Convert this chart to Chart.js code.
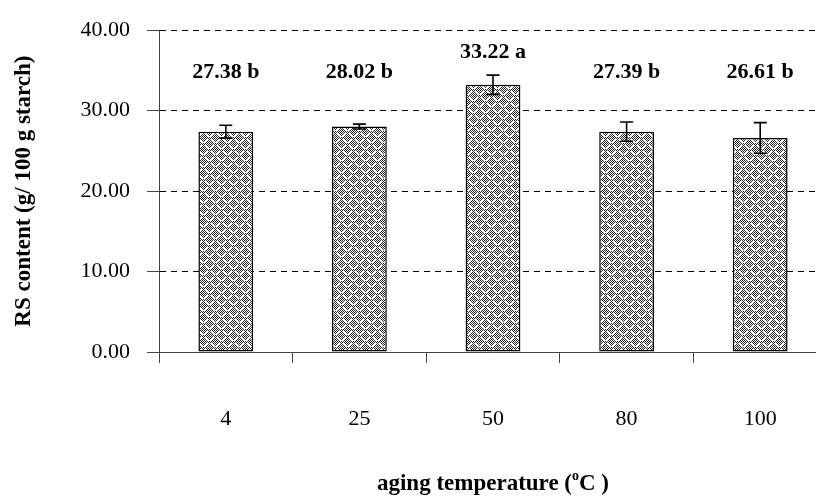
<!DOCTYPE html>
<html>
<head>
<meta charset="utf-8">
<script src="https://cdn.jsdelivr.net/npm/chart.js@4/dist/chart.umd.min.js"></script>
<style>
    html, body { margin: 0; padding: 0; background: #fff; overflow: hidden; }
    #wrap { width: 840px; height: 502px; }
</style>
</head>
<body>
<div id="wrap"><canvas id="chart" width="840" height="502"></canvas></div>
<script>
// --- Data ---
const temperatures = ['4', '25', '50', '80', '100'];
const rsContent = [27.38, 28.02, 33.22, 27.39, 26.61];
const rsError = [0.8, 0.3, 1.2, 1.2, 1.9];
const groupLetters = ['b', 'b', 'a', 'b', 'b'];
const labelLevel = [34.8, 34.8, 37.2, 34.8, 34.8]; // where the value labels sit (y units)
const yTicks = [0, 10, 20, 30, 40];

const serif = "'Liberation Serif', 'Times New Roman', serif";

// woven fill for the bars (dotted grey with broken white diagonals)
function makeWeave() {
    const size = 12;
    const c = document.createElement('canvas');
    c.width = size; c.height = size;
    const g = c.getContext('2d');
    g.fillStyle = '#fff';
    g.fillRect(0, 0, size, size);
    g.fillStyle = '#262626';
    for (let y = 0; y < size; y++) {
        for (let x = 0; x < size; x++) {
            if ((x + y) % 2 === 0) g.fillRect(x, y, 1, 1);
        }
    }
    g.fillStyle = '#fff';
    const px = (x, y) => g.fillRect(((x % size) + size) % size, ((y % size) + size) % size, 2, 1);
    for (let t = 0; t < 4; t++) {
        px(t, 1 + t);          // "\"
        px(6 + t, 4 - t);      // "/"
        px(6 + t, 7 + t);      // "\" (shifted row)
        px(t, 10 - t);         // "/" (shifted row)
    }
    return g.createPattern(c, 'repeat');
}

const errorBars = {
    id: 'errorBars',
    afterDatasetsDraw(chart) {
        const ctx = chart.ctx;
        const y = chart.scales.y;
        const meta = chart.getDatasetMeta(0);
        ctx.save();
        ctx.strokeStyle = '#000';
        ctx.lineWidth = 1.6;
        meta.data.forEach((bar, i) => {
            const top = y.getPixelForValue(rsContent[i] + rsError[i]);
            const bot = y.getPixelForValue(rsContent[i] - rsError[i]);
            ctx.beginPath();
            ctx.moveTo(bar.x, top); ctx.lineTo(bar.x, bot);
            ctx.moveTo(bar.x - 6.5, top); ctx.lineTo(bar.x + 6.5, top);
            ctx.moveTo(bar.x - 6.5, bot); ctx.lineTo(bar.x + 6.5, bot);
            ctx.stroke();
        });
        ctx.restore();
    }
};

const valueLabels = {
    id: 'valueLabels',
    afterDatasetsDraw(chart) {
        const ctx = chart.ctx;
        const y = chart.scales.y;
        const meta = chart.getDatasetMeta(0);
        ctx.save();
        ctx.fillStyle = '#000';
        ctx.font = `bold 22px ${serif}`;
        ctx.textAlign = 'center';
        ctx.textBaseline = 'middle';
        meta.data.forEach((bar, i) => {
            ctx.fillText(`${rsContent[i].toFixed(2)} ${groupLetters[i]}`, bar.x, y.getPixelForValue(labelLevel[i]));
        });
        ctx.restore();
    }
};

// x title with a raised "o" for degrees
const xTitle = {
    id: 'xTitle',
    afterDraw(chart) {
        const ctx = chart.ctx;
        const area = chart.chartArea;
        const main = 'aging temperature (';
        const tail = 'C )';
        ctx.save();
        ctx.fillStyle = '#000';
        ctx.textBaseline = 'alphabetic';
        ctx.font = `bold 23px ${serif}`;
        const w1 = ctx.measureText(main).width;
        const w3 = ctx.measureText(tail).width;
        ctx.font = `bold 14px ${serif}`;
        const w2 = ctx.measureText('o').width;
        let x = (area.left + area.right) / 2 - (w1 + w2 + w3) / 2;
        const base = 490;
        ctx.font = `bold 23px ${serif}`;
        ctx.fillText(main, x, base);
        x += w1;
        ctx.font = `bold 14px ${serif}`;
        ctx.fillText('o', x, base - 10);
        x += w2;
        ctx.font = `bold 23px ${serif}`;
        ctx.fillText(tail, x, base);
        ctx.restore();
    }
};

new Chart(document.getElementById('chart'), {
    type: 'bar',
    data: {
        labels: temperatures,
        datasets: [{
            data: rsContent,
            backgroundColor: makeWeave(),
            borderColor: '#000',
            borderWidth: 1.5,
            borderSkipped: false,
            categoryPercentage: 1,
            barPercentage: 0.41
        }]
    },
    options: {
        responsive: false,
        animation: false,
        layout: { padding: { top: 25, right: 13, left: 0, bottom: 0 } },
        plugins: { legend: { display: false }, tooltip: { enabled: false } },
        scales: {
            x: {
                afterFit: (scale) => { scale.height = 150; },
                grid: {
                    offset: true,
                    drawOnChartArea: false,
                    tickLength: 11,
                    tickColor: '#444',
                    tickWidth: 1
                },
                border: { color: '#444', width: 1 },
                ticks: { color: '#000', padding: 43, font: { family: serif, size: 22 } }
            },
            y: {
                min: 0,
                max: 40,
                afterFit: (scale) => { scale.width = 159; },
                afterBuildTicks: (scale) => { scale.ticks = yTicks.map(v => ({ value: v })); },
                grid: {
                    color: (ctx) => ctx.tick && ctx.tick.value === 0 ? 'rgba(0,0,0,0)' : '#000',
                    lineWidth: 1,
                    tickLength: 12,
                    tickColor: '#444',
                    tickWidth: 1
                },
                border: { color: '#444', width: 1, dash: [6, 5] },
                ticks: {
                    color: '#000',
                    padding: 17,
                    font: { family: serif, size: 22 },
                    callback: (v) => Number(v).toFixed(2)
                },
                title: {
                    display: true,
                    text: 'RS content (g/ 100 g starch)',
                    color: '#000',
                    font: { family: serif, size: 23, weight: 'bold' },
                    padding: { top: 10, bottom: 0 }
                }
            }
        }
    },
    plugins: [errorBars, valueLabels, xTitle]
});
</script>
</body>
</html>
